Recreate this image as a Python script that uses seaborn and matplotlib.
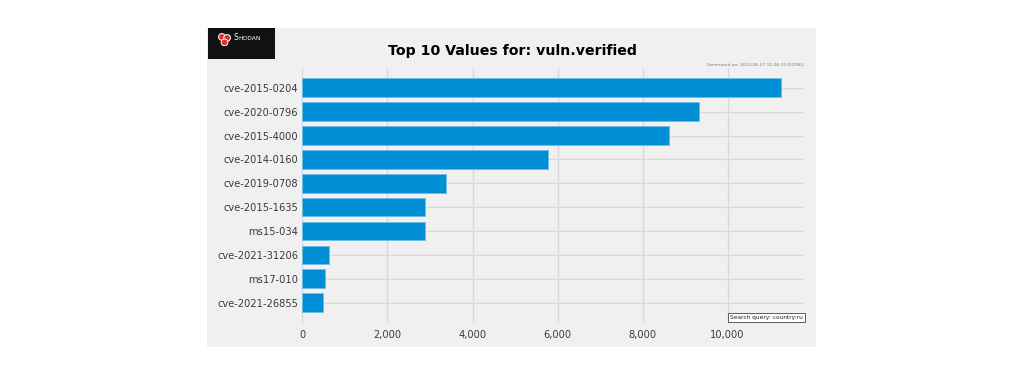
import matplotlib
matplotlib.use("Agg")
import matplotlib.pyplot as plt
from matplotlib.patches import Rectangle, Circle
from matplotlib.ticker import FuncFormatter
import pandas as pd
import seaborn as sns

LABELS = [
    "cve-2015-0204", "cve-2020-0796", "cve-2015-4000", "cve-2014-0160",
    "cve-2019-0708", "cve-2015-1635", "ms15-034", "cve-2021-31206",
    "ms17-010", "cve-2021-26855",
]
COUNTS = [11260, 9318, 8627, 5767, 3382, 2888, 2880, 630, 529, 475]
XTICKS = [0, 2000, 4000, 6000, 8000, 10000]

TITLE = "Top 10 Values for: vuln.verified"
GENERATED = "Generated on: 2023-06-27 12:26:33.032962"
QUERY = "Search query: country:ru"

BG = "#f0f0f0"
BAR = "#008fd5"
GRID = "#d9d9d9"
TXT = "#3a3a3a"

sns.set_theme(style="white")
plt.rcParams["font.family"] = ["DejaVu Sans"]


def main():
    df = pd.DataFrame({"value": LABELS, "count": COUNTS})

    fig = plt.figure(figsize=(10.24, 3.71), dpi=100, facecolor="white")

    # gray chart panel (the shodan image background)
    fig.add_artist(Rectangle((0.2024, 0.0639), 0.5944, 0.8598,
                             transform=fig.transFigure, facecolor=BG,
                             edgecolor="none", zorder=0))

    # shodan logo badge
    fig.add_artist(Rectangle((0.2028, 0.8402), 0.0658, 0.0835,
                             transform=fig.transFigure, facecolor="#111111",
                             edgecolor="none", zorder=1))
    lax = fig.add_axes([0.2130, 0.8760, 0.0125, 0.0350], zorder=3)
    lax.set_xlim(0, 1)
    lax.set_ylim(0, 1)
    lax.set_aspect("equal", adjustable="datalim")
    lax.axis("off")
    for cx, cy in [(0.30, 0.70), (0.70, 0.62), (0.50, 0.28)]:
        lax.add_patch(Circle((cx, cy), 0.26, facecolor="#e0302a",
                             edgecolor="white", linewidth=0.7))
    fig.text(0.2282, 0.8985, "S", color="white", fontsize=5.5,
             ha="left", va="center", zorder=4)
    fig.text(0.2330, 0.8975, "HODAN", color="white", fontsize=4.3,
             ha="left", va="center", zorder=4)

    ax = fig.add_axes([0.2954, 0.1302, 0.4898, 0.6873])
    ax.set_facecolor(BG)
    ax.patch.set_alpha(0)

    sns.barplot(
        data=df,
        x="count",
        y="value",
        orient="h",
        color=BAR,
        saturation=1,
        width=0.78,
        edgecolor="#6dbde8",
        linewidth=0.6,
        ax=ax,
        zorder=3,
    )

    ax.set_xlim(0, 11800)
    ax.set_ylim(9.84, -0.84)
    ax.set_xticks(XTICKS)
    ax.xaxis.set_major_formatter(FuncFormatter(lambda v, p: f"{int(v):,}"))
    ax.grid(True, axis="both", color=GRID, linewidth=1.0, zorder=0)
    ax.set_axisbelow(True)
    for s in ax.spines.values():
        s.set_visible(False)
    ax.tick_params(axis="both", length=0, labelsize=7.1, colors=TXT)
    ax.tick_params(axis="x", pad=5)
    ax.tick_params(axis="y", pad=3)
    ax.set_xlabel("")
    ax.set_ylabel("")

    fig.text(0.5, 0.863, TITLE, ha="center", va="center",
             fontsize=10.2, fontweight="bold", color="black")
    fig.text(0.785, 0.825, GENERATED, ha="right", va="center",
             fontsize=3.2, color="#777777")

    ax.text(0.9975, 0.012, QUERY, transform=ax.transAxes, ha="right",
            va="bottom", fontsize=4.2, color="#222222", zorder=5,
            bbox=dict(boxstyle="square,pad=0.35", facecolor="white",
                      edgecolor="#444444", linewidth=0.6))

    fig.savefig("out.png", dpi=100, facecolor="white")


if __name__ == "__main__":
    main()
